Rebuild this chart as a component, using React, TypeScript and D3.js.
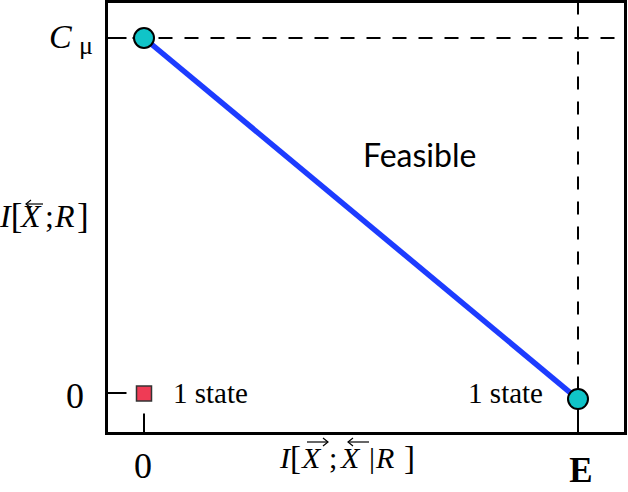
import React from "react";
import * as d3 from "d3";

// Data
const xTickValues = [0, 1];
const xTickLabels = ["0", "E"];
const yTickValues = [0, 1];
const yTickLabels = ["0", "Cμ"];
const lineX = [0, 1];
const lineY = [1, -0.017];
const squareX = [0];
const squareY = [0];
const squareLabel = "1 state";
const endLabel = "1 state";
const regionLabel = "Feasible";

const W = 628;
const H = 492;
const serif = "'Liberation Serif', 'Times New Roman', serif";

export default function App() {
  const x = d3.scaleLinear().domain([0, 1]).range([144, 578]);
  const y = d3.scaleLinear().domain([0, 1]).range([393, 38]);
  const frame = { l: 106.5, t: 1.5, r: 625.5, b: 433.5 };

  const pts = lineX.map((v, i) => [x(v), y(lineY[i])] as [number, number]);
  const linePath = d3.line()(pts) || "";

  const arrow = (x0: number, x1: number, yy: number, dir: "left" | "right") => {
    const tip = dir === "left" ? x0 : x1;
    const s = dir === "left" ? 1 : -1;
    return (
      <g stroke="#000" strokeWidth={1.2} fill="none">
        <line x1={x0} y1={yy} x2={x1} y2={yy} />
        <polyline points={`${tip + s * 5},${yy - 4} ${tip},${yy} ${tip + s * 5},${yy + 4}`} />
      </g>
    );
  };

  return (
    <svg
      width={W}
      height={H}
      style={{ position: "absolute", left: 0, top: 0, background: "#fff" }}
    >
      {/* dashed guide lines */}
      <line
        x1={frame.l}
        x2={frame.r}
        y1={y(1)}
        y2={y(1)}
        stroke="#000"
        strokeWidth={2}
        strokeDasharray="14 12"
      />
      <line
        x1={x(1)}
        x2={x(1)}
        y1={frame.t}
        y2={frame.b}
        stroke="#000"
        strokeWidth={2}
        strokeDasharray="13 12"
      />
      {/* ticks */}
      {yTickValues.map((v) => (
        <line key={"yt" + v} x1={frame.l} x2={frame.l + 20} y1={y(v)} y2={y(v)} stroke="#000" strokeWidth={2} />
      ))}
      {xTickValues.map((v) => (
        <line key={"xt" + v} x1={x(v)} x2={x(v)} y1={frame.b} y2={frame.b - 20} stroke="#000" strokeWidth={2} />
      ))}
      {/* frame */}
      <rect
        x={frame.l}
        y={frame.t}
        width={frame.r - frame.l}
        height={frame.b - frame.t}
        fill="none"
        stroke="#000"
        strokeWidth={3}
      />
      {/* main line */}
      <path d={linePath} stroke="#1d3cff" strokeWidth={5.5} fill="none" />
      {pts.map((p, i) => (
        <circle key={i} cx={p[0]} cy={p[1]} r={10} fill="#10c4c8" stroke="#000" strokeWidth={2} />
      ))}
      {squareX.map((v, i) => (
        <rect
          key={i}
          x={x(v) - 7.5}
          y={y(squareY[i]) - 7}
          width={15}
          height={15}
          fill="#ef3b55"
          stroke="#333"
          strokeWidth={1.5}
        />
      ))}
      {/* annotations */}
      <text x={173} y={403} fontFamily={serif} fontSize={29}>{squareLabel}</text>
      <text x={543} y={403} fontFamily={serif} fontSize={29} textAnchor="end">{endLabel}</text>
      <text x={363} y={167} fontFamily="Lato, 'Open Sans', sans-serif" fontSize={32}>{regionLabel}</text>

      {/* x tick labels */}
      <text x={x(xTickValues[0]) - 1} y={478} fontFamily={serif} fontSize={36} textAnchor="middle">{xTickLabels[0]}</text>
      <text x={x(xTickValues[1]) + 3} y={482} fontFamily={serif} fontSize={35} fontWeight="bold" textAnchor="middle">{xTickLabels[1]}</text>

      {/* y tick labels */}
      <text x={75} y={y(yTickValues[0]) + 15} fontFamily={serif} fontSize={36} textAnchor="middle">{yTickLabels[0]}</text>
      <text x={49} y={y(yTickValues[1]) + 10} fontFamily={serif} fontSize={34} fontStyle="italic">{yTickLabels[1][0]}</text>
      <text x={79} y={y(yTickValues[1]) + 16} fontFamily={serif} fontSize={26}>{yTickLabels[1][1]}</text>

      {/* y axis label I[X;R] */}
      <g fontFamily={serif} fontSize={32}>
        <text x={0} y={227} fontStyle="italic">I</text>
        <text x={10.8} y={228} fontSize={35}>[</text>
        <text x={21} y={227} fontStyle="italic">X</text>
        <text x={45} y={227}>;</text>
        <text x={55} y={227} fontStyle="italic">R</text>
        <text x={77} y={228} fontSize={35}>]</text>
      </g>
      {arrow(26, 43, 204, "left")}

      {/* x axis label I[X;X|R] */}
      <g fontFamily={serif} fontSize={30}>
        <text x={280} y={468} fontStyle="italic">I</text>
        <text x={290} y={469} fontSize={33}>[</text>
        <text x={302} y={468} fontStyle="italic">X</text>
        <text x={329} y={468}>;</text>
        <text x={341} y={468} fontStyle="italic">X</text>
        <text x={369} y={468}>|</text>
        <text x={376} y={468} fontStyle="italic">R</text>
        <text x={404} y={469} fontSize={33}>]</text>
      </g>
      {arrow(307, 328, 442, "right")}
      {arrow(348, 369, 442, "left")}
    </svg>
  );
}
